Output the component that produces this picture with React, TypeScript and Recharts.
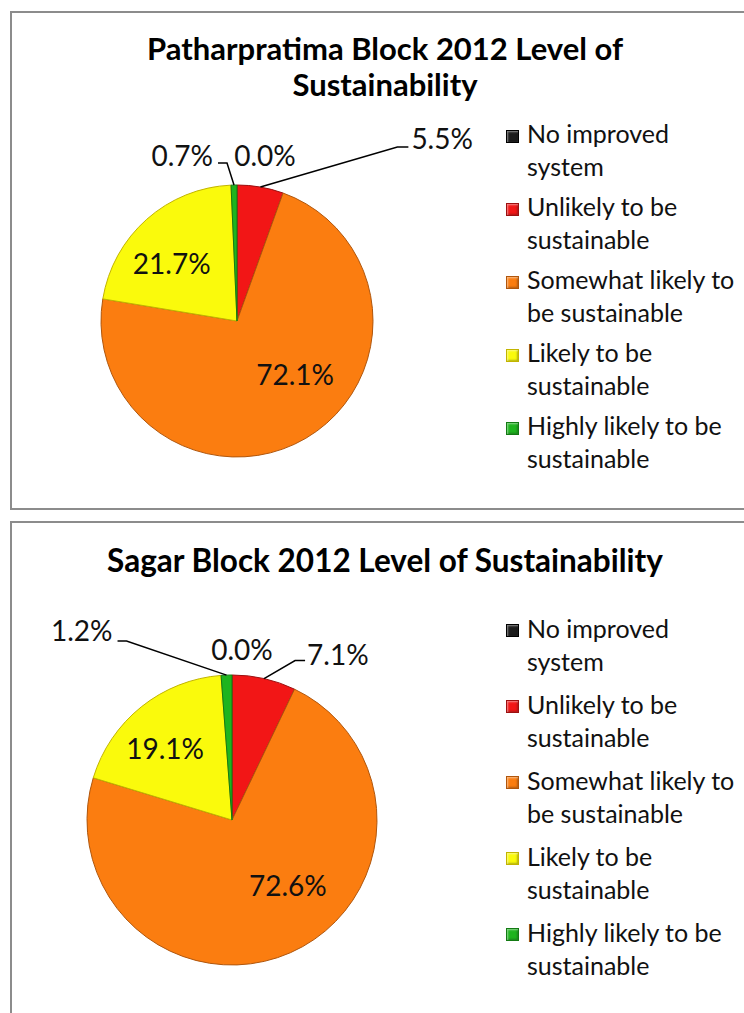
import React from "react";
import { PieChart, Pie, Cell, Legend } from "recharts";

const categories = [
  "No improved system",
  "Unlikely to be sustainable",
  "Somewhat likely to be sustainable",
  "Likely to be sustainable",
  "Highly likely to be sustainable",
];

const patharpratimaValues = [0.0, 5.5, 72.1, 21.7, 0.7];
const sagarValues = [0.0, 7.1, 72.6, 19.1, 1.2];

const sliceColors = ["#1c1c1c", "#f21616", "#fb7d10", "#fafa0c", "#1eb41e"];
const sliceEdges = ["#000000", "#9c1010", "#b0560c", "#c2b400", "#137a13"];

const FONT = "Lato, 'DejaVu Sans', sans-serif";

type LabelSpec =
  | { kind: "inside"; radius: number; turn: number }
  | {
      kind: "outside";
      leader?: [number, number][];
      dx: number;
      dy: number;
      anchor: "start" | "middle" | "end";
    };

// label placement relative to each slice (edge point or centre)
const patharpratimaLabels: LabelSpec[] = [
  { kind: "outside", dx: 28, dy: -30, anchor: "middle" },
  { kind: "outside", leader: [[137, -40], [148, -40]], dx: 151, dy: -49, anchor: "start" },
  { kind: "inside", radius: 0.58, turn: -17 },
  { kind: "inside", radius: 0.64, turn: -7 },
  { kind: "outside", leader: [[-7, -22], [-16, -22]], dx: -21, dy: -30, anchor: "end" },
];

const sagarLabels: LabelSpec[] = [
  { kind: "outside", dx: 10, dy: -26, anchor: "middle" },
  { kind: "outside", leader: [[31, -18], [41, -18]], dx: 43, dy: -25, anchor: "start" },
  { kind: "inside", radius: 0.59, turn: -17 },
  { kind: "inside", radius: 0.68, turn: -4 },
  { kind: "outside", leader: [[-100, -34], [-109, -34]], dx: -114, dy: -45, anchor: "end" },
];

const makeLabel = (specs: LabelSpec[]) => (props: any) => {
  const { cx, cy, midAngle, outerRadius, value, index } = props;
  const spec = specs[index];
  const text = `${Number(value).toFixed(1)}%`;
  const compass = 90 - midAngle;
  const textStyle = { fontFamily: FONT, fontSize: 28, fill: "#111" };
  if (spec.kind === "inside") {
    const a = ((compass + spec.turn) * Math.PI) / 180;
    const r = outerRadius * spec.radius;
    return (
      <text
        key={`l-${index}`}
        x={cx + r * Math.sin(a)}
        y={cy - r * Math.cos(a)}
        textAnchor="middle"
        dominantBaseline="central"
        style={textStyle}
      >
        {text}
      </text>
    );
  }
  const a = (compass * Math.PI) / 180;
  const ex = cx + outerRadius * Math.sin(a);
  const ey = cy - outerRadius * Math.cos(a);
  const pts = [[ex, ey], ...(spec.leader ?? []).map(([dx, dy]) => [ex + dx, ey + dy])];
  return (
    <g key={`l-${index}`}>
      {pts.length > 1 && (
        <polyline
          points={pts.map((p) => p.join(",")).join(" ")}
          fill="none"
          stroke="#000"
          strokeWidth={1.5}
        />
      )}
      <text
        x={ex + spec.dx}
        y={ey + spec.dy}
        textAnchor={spec.anchor}
        dominantBaseline="central"
        style={textStyle}
      >
        {text}
      </text>
    </g>
  );
};

const makeLegend = (gap: number, lineHeight: number) => (props: any) => {
  const { payload = [] } = props;
  const items = [...payload].sort(
    (a: any, b: any) => categories.indexOf(a.value) - categories.indexOf(b.value)
  );
  return (
    <div style={{ fontFamily: FONT, fontSize: 25, color: "#111" }}>
      {items.map((entry: any) => {
        const i = categories.indexOf(entry.value);
        return (
          <div key={i} style={{ display: "flex", alignItems: "flex-start", marginBottom: gap }}>
            <div
              style={{
                width: 11,
                height: 11,
                marginTop: lineHeight / 2 - 4,
                marginRight: 8,
                background: sliceColors[i],
                border: `1px solid ${sliceEdges[i]}`,
                boxShadow:
                  "inset 1px 1px 2px rgba(255,255,255,0.5), inset -1px -1px 2px rgba(0,0,0,0.3)",
                flex: "none",
              }}
            />
            <div style={{ width: 212, lineHeight: `${lineHeight}px` }}>{entry.value}</div>
          </div>
        );
      })}
    </div>
  );
};

const buildData = (values: number[]) =>
  categories.map((name, i) => ({ name, value: values[i] }));

type PanelProps = {
  top: number;
  height: number;
  title: string[];
  titleTop: number;
  titleSize: number;
  values: number[];
  labels: LabelSpec[];
  cx: number;
  cy: number;
  radius: number;
  legendTop: number;
  legendGap: number;
  legendLine: number;
};

const Panel = (p: PanelProps) => (
  <>
    <div
      style={{
        position: "absolute",
        left: 10,
        top: p.top + 1,
        width: 800,
        height: p.height,
        border: "2px solid #8c8c8c",
        boxSizing: "border-box",
      }}
    />
    <div
      style={{
        position: "absolute",
        left: 10,
        width: 750,
        top: p.top + p.titleTop,
        textAlign: "center",
        fontFamily: FONT,
        fontWeight: 700,
        fontSize: p.titleSize,
        lineHeight: "36px",
        color: "#000",
      }}
    >
      {p.title.map((t, i) => (
        <div key={i}>{t}</div>
      ))}
    </div>
    <div style={{ position: "absolute", left: 0, top: p.top }}>
      <PieChart
        width={744}
        height={p.height}
        margin={{ top: 0, right: 0, bottom: 0, left: 0 }}
      >
        <Pie
          data={buildData(p.values)}
          dataKey="value"
          nameKey="name"
          cx={p.cx}
          cy={p.cy}
          outerRadius={p.radius}
          startAngle={90}
          endAngle={-270}
          isAnimationActive={false}
          labelLine={false}
          label={makeLabel(p.labels)}
        >
          {p.values.map((_, i) => (
            <Cell key={i} fill={sliceColors[i]} stroke={sliceEdges[i]} strokeWidth={1} />
          ))}
        </Pie>
        <Legend
          layout="vertical"
          align="right"
          verticalAlign="top"
          itemSorter={null as any}
          wrapperStyle={{ left: 506, top: p.legendTop, width: 236 }}
          content={makeLegend(p.legendGap, p.legendLine)}
        />
      </PieChart>
    </div>
  </>
);

export default function App() {
  return (
    <div
      style={{
        position: "absolute",
        left: 0,
        top: 0,
        width: 744,
        height: 1013,
        overflow: "hidden",
        background: "#fff",
      }}
    >
      <Panel
        top={10}
        height={499}
        title={["Patharpratima Block 2012 Level of", "Sustainability"]}
        titleTop={20}
        titleSize={31}
        values={patharpratimaValues}
        labels={patharpratimaLabels}
        cx={237}
        cy={311}
        radius={136}
        legendTop={107}
        legendGap={7}
        legendLine={33}
      />
      <Panel
        top={520}
        height={600}
        title={["Sagar Block 2012 Level of Sustainability"]}
        titleTop={22}
        titleSize={31.5}
        values={sagarValues}
        labels={sagarLabels}
        cx={232}
        cy={300}
        radius={145}
        legendTop={92}
        legendGap={11}
        legendLine={32.5}
      />
    </div>
  );
}
